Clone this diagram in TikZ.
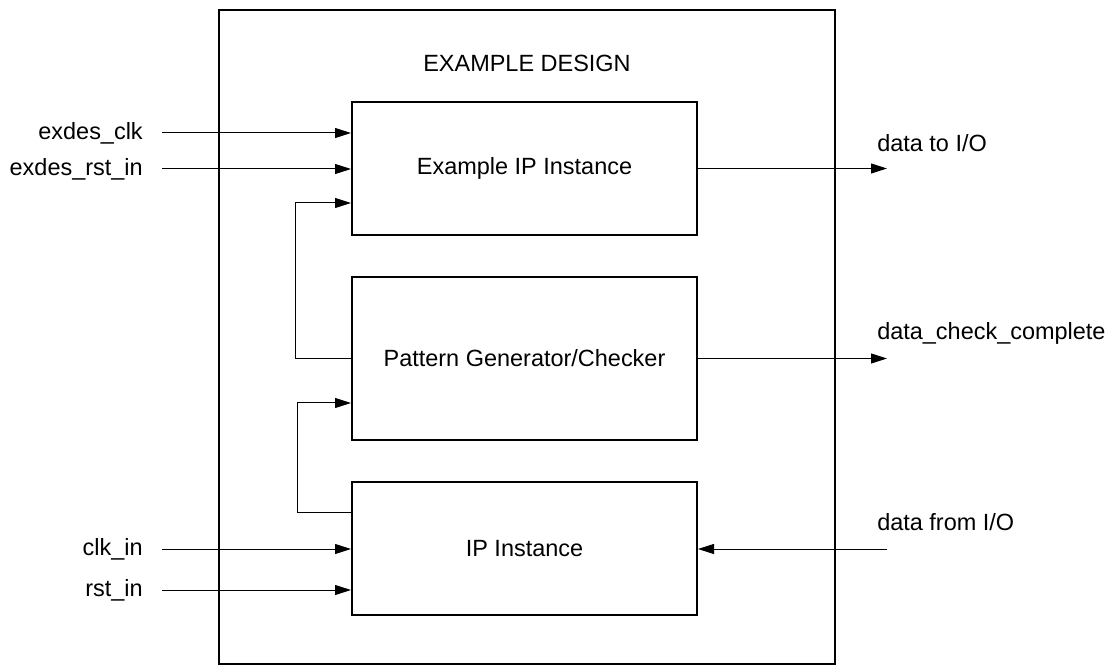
\documentclass[tikz,border=0pt]{standalone}
\usepackage{fontspec}
\setmainfont{Liberation Sans}
\usetikzlibrary{arrows.meta}
\begin{document}
\begin{tikzpicture}[x=0.75pt,y=-0.75pt,
  every node/.style={font=\fontsize{17.6}{21}\selectfont},
  blk/.style={draw, line width=1.5pt, minimum width=258.75pt, inner sep=0pt},
  outer/.style={draw, line width=1.5pt, minimum width=462pt, minimum height=490.5pt, inner sep=0pt},
  conn/.style={line width=0.75pt},
  arr/.style={conn, -{Triangle[length=12pt,width=7.5pt]}},
  lbl/.style={inner sep=0pt}]
\useasboundingbox (0,0) rectangle (1110,666);
\node[outer] (design) at (527,337) {};
\node[lbl] (title) at (527,63) {EXAMPLE DESIGN};
\node[blk, minimum height=99.75pt] (exip) at (524.5,168.5) {Example IP Instance};
\node[blk, minimum height=122.25pt] (pg) at (524.5,358.5) {Pattern Generator/Checker};
\node[blk, minimum height=99.75pt] (ip) at (524.5,548.5) {IP Instance};
% left input labels
\node[lbl, anchor=east] (l1) at (143,133) {exdes\_clk};
\node[lbl, anchor=east] (l2) at (143,169) {exdes\_rst\_in};
\node[lbl, anchor=east] (l3) at (143,549) {clk\_in};
\node[lbl, anchor=east] (l4) at (143,590) {rst\_in};
% right labels
\node[lbl, anchor=west] (r1) at (877,143) {data to I/O};
\node[lbl, anchor=west] (r2) at (877,333) {data\_check\_complete};
\node[lbl, anchor=west] (r3) at (877,522) {data from I/O};
% coordinates
\coordinate (s1) at (162,133);
\coordinate (s2) at (162,169);
\coordinate (s3) at (162,549);
\coordinate (s4) at (162,590);
\coordinate (fb1) at (295,203);
\coordinate (fb2) at (297,403);
\coordinate (fb2s) at (297,512);
\coordinate (o1) at (887,169);
\coordinate (o3) at (887,549);
% connectors
\draw[arr] (s1) -- (exip.west |- s1);
\draw[arr] (s2) -- (exip.west |- s2);
\draw[arr] (s3) -- (ip.west |- s3);
\draw[arr] (s4) -- (ip.west |- s4);
\draw[arr] (pg.west) -| (fb1) -- (exip.west |- fb1);
\draw[arr] (ip.west |- fb2s) -- (fb2s) -- (fb2) -- (pg.west |- fb2);
\draw[arr] (exip.east) -- (exip.east -| o1);
\draw[arr] (pg.east) -- (pg.east -| o1);
\draw[arr] (o3) -- (ip.east |- o3);
\end{tikzpicture}
\end{document}
